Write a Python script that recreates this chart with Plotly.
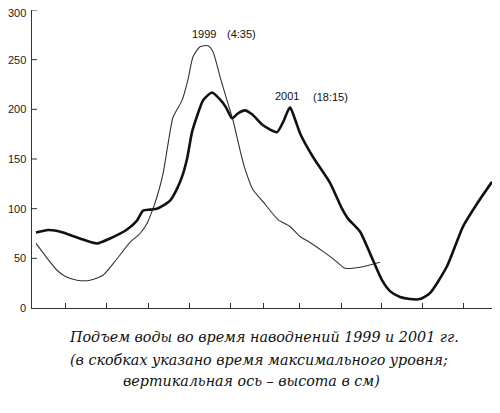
import plotly.graph_objects as go

# time axis (arbitrary units along the scan), water level in cm
x_2001 = [4, 16, 23, 31, 48, 65, 78, 95, 105, 111, 118, 125, 131, 138, 144, 150, 155,
          160, 165, 171, 180, 188, 194, 200, 206, 213, 220, 231, 245, 251, 258, 263, 268,
          281, 298, 310, 316, 328, 338, 350, 358, 368, 378, 388, 398, 415, 431, 445, 460]
y_2001 = [76, 78.5, 78, 76, 70, 65, 70, 79, 88, 98, 99, 100, 103, 108, 118, 132, 150,
          177, 193, 209, 217, 210, 202, 191, 196, 199, 195, 184, 177, 187, 202, 190, 176,
          152, 126, 100, 90, 77, 55, 28, 17, 11, 9, 9, 15, 42, 82, 105, 127]

x_1999 = [4, 13, 25, 33, 45, 58, 71, 83, 98, 108, 115, 121, 125, 131, 136, 141, 150,
          156, 161, 168, 176, 181, 188, 195, 201, 208, 213, 221, 231, 246, 258, 268, 278,
          291, 303, 313, 328, 348]
y_1999 = [65, 53, 38, 32, 28, 28, 33, 47, 66, 75, 85, 100, 112, 135, 165, 192, 209,
          230, 253, 263, 264, 258, 233, 209, 189, 159, 140, 119, 107, 89, 82, 72, 66,
          57, 48, 40, 41, 46]

y_ticks = [50, 100, 150, 200, 250, 300]
y_labels = ["0", "50", "100", "150", "200", "250", "300"]
x_ticks = [33, 74, 116, 157, 198, 231, 267, 309, 349, 390, 431, 463]

caption = [
    "Подъем воды во время наводнений 1999 и 2001 гг.",
    "(в скобках указано время максимального уровня;",
    "вертикальная ось – высота в см)",
]

fig = go.Figure()
fig.add_trace(go.Scatter(x=x_1999, y=y_1999, mode="lines",
                         line=dict(color="#333333", width=1.1, shape="spline", smoothing=0.6)))
fig.add_trace(go.Scatter(x=x_2001, y=y_2001, mode="lines",
                         line=dict(color="#111111", width=2.6, shape="spline", smoothing=0.6)))

tick_font = dict(family="Liberation Sans, Arial", size=11, color="#222222")

fig.update_xaxes(range=[0, 463], showline=True, linecolor="#333333", linewidth=1,
                 showgrid=False, zeroline=False, ticks="inside", ticklen=5,
                 tickcolor="#333333", tickvals=x_ticks, showticklabels=False)
fig.update_yaxes(range=[0, 300], showline=True, linecolor="#333333", linewidth=1,
                 showgrid=False, zeroline=False, ticks="", showticklabels=False)

# y tick labels and inward ticks
for lab in y_labels:
    v = int(lab)
    fig.add_annotation(x=0, y=v, xref="x", yref="y", text=lab, showarrow=False,
                       xanchor="right", xshift=-4, yshift=-3 if v == 300 else 0,
                       font=tick_font)
for v in y_ticks:
    fig.add_shape(type="line", xref="x", yref="y", x0=0, x1=5, y0=v, y1=v,
                  line=dict(color="#333333", width=1))

peak_font = dict(family="Liberation Sans, Arial", size=11, color="#111111")
fig.add_annotation(x=172, y=276, text="1999", showarrow=False, font=peak_font)
fig.add_annotation(x=209, y=276, text="(4:35)", showarrow=False, font=peak_font)
fig.add_annotation(x=255, y=213, text="2001", showarrow=False, font=peak_font)
fig.add_annotation(x=298, y=212, text="(18:15)", showarrow=False, font=peak_font)

cap_font = dict(family="DejaVu Serif", size=14.3, color="#111111")
cap_pos = [(0.50, -0.097), (0.49, -0.174), (0.475, -0.245)]
for line, (px, py) in zip(caption, cap_pos):
    fig.add_annotation(x=px, y=py, xref="paper", yref="paper", text="<i>" + line + "</i>",
                       showarrow=False, xanchor="center", yanchor="middle", font=cap_font)

# page body adds 8px offset, so figure is a bit smaller
fig.update_layout(width=492, height=405, margin=dict(l=24, r=5, t=2, b=105),
                  plot_bgcolor="white", paper_bgcolor="white", showlegend=False)

fig.write_html("out.html")
